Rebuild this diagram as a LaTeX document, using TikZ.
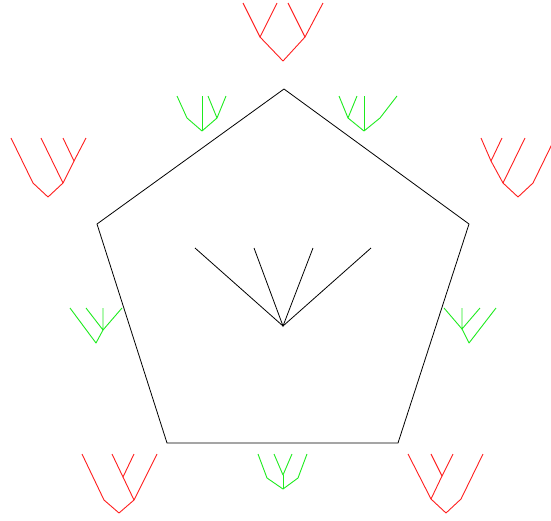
\documentclass[tikz,border=0pt]{standalone}
\definecolor{treered}{RGB}{255,30,30}
\definecolor{treegreen}{RGB}{30,235,30}
\begin{document}
\begin{tikzpicture}[x=1pt,y=-1pt,line width=0.9pt,
  redtree/.style={draw=treered,line join=round},
  greentree/.style={draw=treegreen,line join=round},
  blk/.style={draw=black,line width=0.8pt}]
\useasboundingbox (0,0) rectangle (551,520);
\clip (0,0) rectangle (551,520);
% pentagon
\coordinate (p1) at (284,89);
\coordinate (p2) at (469,224);
\coordinate (p3) at (398,443);
\coordinate (p4) at (167,443);
\coordinate (p5) at (97,224);
\draw[blk] (p1) -- (p2) -- (p3) -- (p4) -- (p5) -- cycle;
% central star
\coordinate (c) at (283,326);
\draw[blk] (195,248) -- (c) -- (371,248);
\draw[blk] (254,248) -- (c) -- (313,248);
% top red ((ab)(cd))
\draw[redtree] (243,3) -- (260,37) -- (277,3);
\draw[redtree] (288,3) -- (305,37) -- (323,3);
\draw[redtree] (260,37) -- (283,61) -- (305,37);
% top-left green
\draw[greentree] (177,96) -- (187,118) -- (202,131) -- (217,118);
\draw[greentree] (202,96) -- (202,131);
\draw[greentree] (208,96) -- (217,118) -- (226,96);
% top-right green
\draw[greentree] (339,96) -- (348,118) -- (357,96);
\draw[greentree] (348,118) -- (364,131) -- (380,118) -- (397,96);
\draw[greentree] (364,96) -- (364,131);
% top-left red
\draw[redtree] (11,138) -- (33,183) -- (48,197) -- (63,183) -- (41,138);
\draw[redtree] (63,183) -- (74,161);
\draw[redtree] (63,138) -- (74,161) -- (86,138);
% top-right red
\draw[redtree] (555,138) -- (533,183) -- (518,197) -- (503,183) -- (525,138);
\draw[redtree] (503,183) -- (491,161);
\draw[redtree] (481,138) -- (491,161) -- (502,138);
% left green
\draw[greentree] (70,308) -- (96,343) -- (103,330) -- (122,308);
\draw[greentree] (86,308) -- (103,330) -- (103,308);
% right green
\draw[greentree] (496,308) -- (469,343) -- (462,329) -- (444,308);
\draw[greentree] (480,308) -- (462,329) -- (462,308);
% bottom-left red
\draw[redtree] (82,454) -- (104,500) -- (119,513) -- (134,500) -- (157,454);
\draw[redtree] (134,500) -- (123,477);
\draw[redtree] (112,454) -- (123,477) -- (134,454);
% bottom green
\draw[greentree] (258,454) -- (267,478) -- (283,489) -- (298,478) -- (307,454);
\draw[greentree] (283,489) -- (283,475);
\draw[greentree] (274,454) -- (283,475) -- (292,454);
% bottom-right red
\draw[redtree] (483,454) -- (461,499) -- (446,513) -- (431,499) -- (408,454);
\draw[redtree] (431,499) -- (442,476);
\draw[redtree] (431,454) -- (442,476) -- (453,454);
\end{tikzpicture}
\end{document}
